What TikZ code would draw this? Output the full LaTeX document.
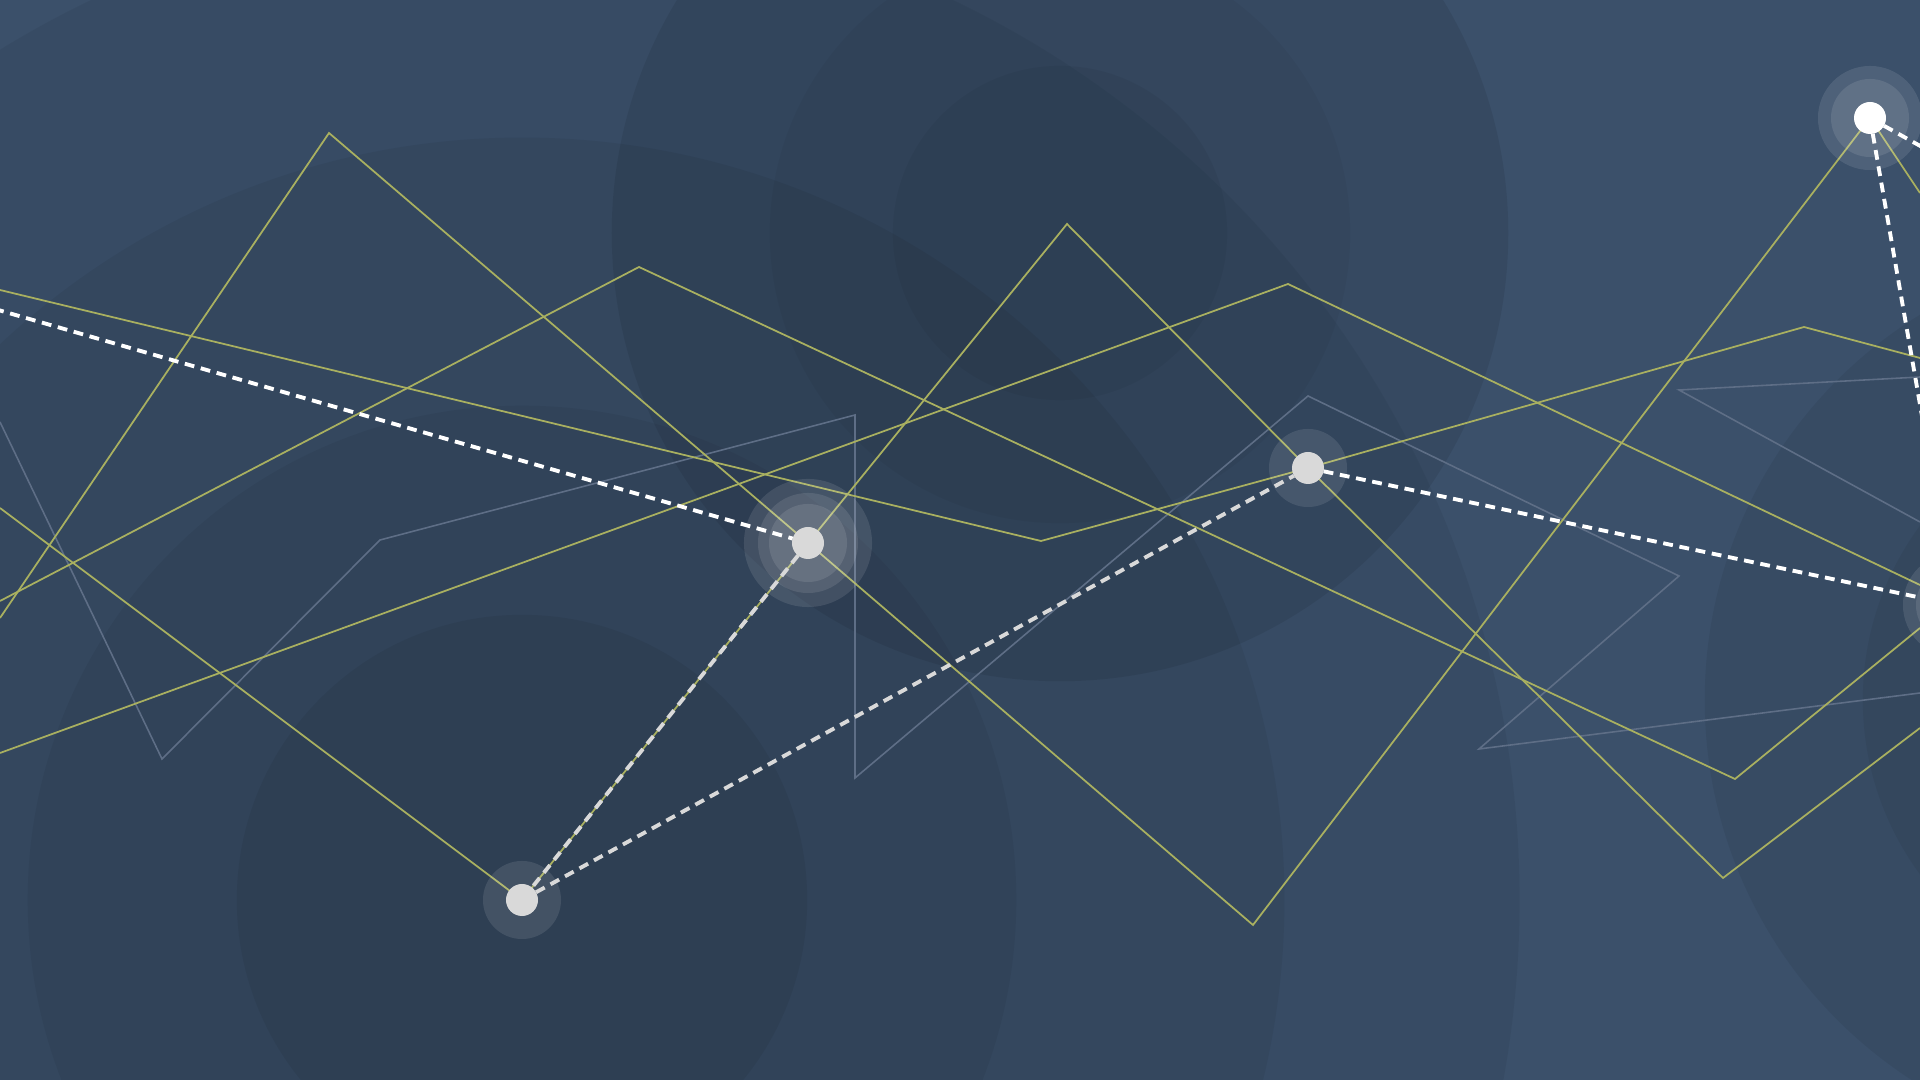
\documentclass[tikz,border=0pt]{standalone}
\definecolor{bgbase}{HTML}{3B506A}
\definecolor{lineyel}{HTML}{A9B060}
\definecolor{linegry}{HTML}{5E6E86}
\definecolor{nodegry}{HTML}{D9D9D9}
\tikzset{
  shade/.style={fill=black,fill opacity=#1},
  yel/.style={draw=lineyel,line width=0.5pt,line join=miter},
  gry/.style={draw=linegry,line width=0.45pt,line join=miter},
  dashw/.style={draw=white,line width=1.1pt,dash pattern=on 2.8pt off 1.9pt},
  dashg/.style={draw=nodegry,line width=1.1pt,dash pattern=on 2.8pt off 1.9pt},
  dot/.style={circle,fill=nodegry,minimum size=0.32cm,inner sep=0pt,outer sep=0pt},
  dotw/.style={circle,fill=white,minimum size=0.32cm,inner sep=0pt,outer sep=0pt},
  halo/.style={fill=white,fill opacity=0.1}
}
\begin{document}
\begin{tikzpicture}[x=0.01cm,y=-0.01cm]
\useasboundingbox (0,0) rectangle (1920,1080);
\clip (0,0) rectangle (1920,1080);
\fill[bgbase] (0,0) rectangle (1920,1080);
% background discs
\fill[shade=0.05] (522,900) circle (9.97cm);
\fill[shade=0.05] (522,900) circle (7.62cm);
\fill[shade=0.05] (522,900) circle (4.94cm);
\fill[shade=0.06] (522,900) circle (2.85cm);
\fill[shade=0.08] (1060,233) circle (4.48cm);
\fill[shade=0.035] (1060,233) circle (2.90cm);
\fill[shade=0.045] (1060,233) circle (1.67cm);
\fill[shade=0.06] (2157,700) circle (4.52cm);
\fill[shade=0.05] (2157,700) circle (2.94cm);
% node coordinates
\coordinate (pA) at (808,543);
\coordinate (pB) at (522,900);
\coordinate (pC) at (1308,468);
\coordinate (pD) at (1870,118);
\coordinate (pE) at (1955,605);
\coordinate (pF) at (2010,196);
\coordinate (pW) at (-40,299);
% gray polylines
\draw[gry] (0,422) -- (162,759) -- (380,540) -- (855,415) -- (855,778) -- (1308,396) -- (1679,576) -- (1479,749) -- (1920,693);
\draw[gry] (1920,377) -- (1679,390) -- (1920,522);
% yellow polylines
\draw[yel] (0,290) -- (1041,541) -- (pC) -- (1804,327) -- (1920,358);
\draw[yel] (0,618) -- (329,133) -- (pA) -- (1253,925) -- (pD) -- (1920,193);
\draw[yel] (0,601) -- (639,267) -- (1735,779) -- (1920,628);
\draw[yel] (0,753) -- (1288,284) -- (1920,585);
\draw[yel] (0,508) -- (pB) -- (pA) -- (1067,224) -- (pC) -- (1723,878) -- (1920,728);
% halos
\fill[halo] (pA) circle (0.64cm);
\fill[halo] (pA) circle (0.50cm);
\fill[halo] (pA) circle (0.39cm);
\fill[halo] (pB) circle (0.39cm);
\fill[halo] (pC) circle (0.39cm);
\fill[halo] (pD) circle (0.52cm);
\fill[halo] (pD) circle (0.39cm);
\fill[halo] (pE) circle (0.52cm);
\fill[halo] (pE) circle (0.39cm);
% nodes
\node[dot] (A) at (pA) {};
\node[dot] (B) at (pB) {};
\node[dot] (C) at (pC) {};
\node[dotw] (D) at (pD) {};
\node[dot] (E) at (pE) {};
\node[dotw] (F) at (pF) {};
\node[inner sep=0pt] (W) at (pW) {};
% dashed connectors
\draw[dashw] (W) -- (A);
\draw[dashg] (A) -- (B);
\draw[dashg] (B) -- (C);
\draw[dashw] (C) -- (E);
\draw[dashw] (D) -- (E);
\draw[dashw] (D) -- (F);
\end{tikzpicture}
\end{document}
